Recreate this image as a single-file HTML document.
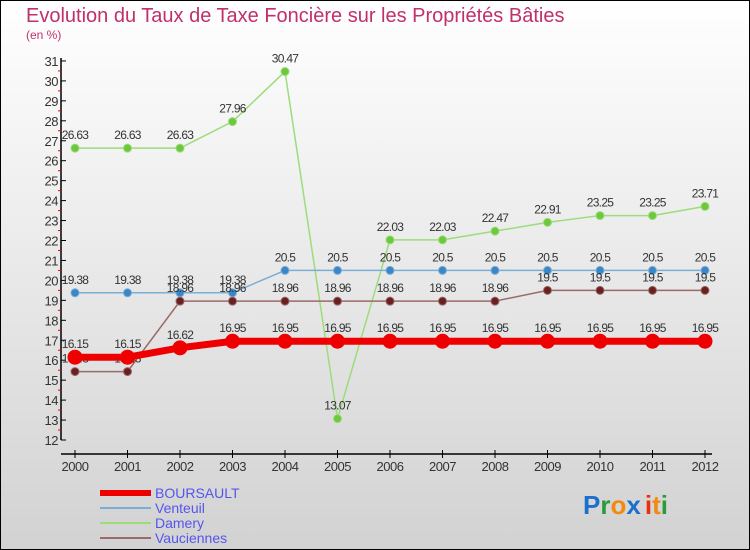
<!DOCTYPE html>
<html><head><meta charset="utf-8"><style>
body{margin:0;}
#c{width:750px;height:550px;position:relative;overflow:hidden;}
svg{display:block;font-family:"Liberation Sans",sans-serif;}
</style></head><body>
<div id="c">
<svg id="s" width="750" height="550">
<defs><linearGradient id="bg" x1="0" y1="0" x2="0" y2="1"><stop offset="0" stop-color="#ffffff"/><stop offset="1" stop-color="#d2d2d2"/></linearGradient></defs>
<rect x="0.5" y="0.5" width="749" height="549" fill="url(#bg)" stroke="#000"/>
<text x="26" y="22" font-size="20" fill="#c0306a">Evolution du Taux de Taxe Foncière sur les Propriétés Bâties</text>
<text x="26" y="39" font-size="12" fill="#c0306a">(en %)</text>
<g id="axes"></g>
<g id="series"></g>
<g id="legend"></g>
<text x="583" y="514" font-size="26" font-weight="bold"><tspan fill="#1a6fcf">P</tspan><tspan fill="#2a9a3a">r</tspan><tspan fill="#f08a10">o</tspan><tspan fill="#1a6fcf">x</tspan><tspan fill="#e83010" dx="4">i</tspan><tspan fill="#f08a10">t</tspan><tspan fill="#2a9a3a">i</tspan></text>
</svg></div>
<script>
const years=[2000,2001,2002,2003,2004,2005,2006,2007,2008,2009,2010,2011,2012];
const boursault=[16.15,16.15,16.62,16.95,16.95,16.95,16.95,16.95,16.95,16.95,16.95,16.95,16.95];
const venteuil=[19.38,19.38,19.38,19.38,20.5,20.5,20.5,20.5,20.5,20.5,20.5,20.5,20.5];
const damery=[26.63,26.63,26.63,27.96,30.47,13.07,22.03,22.03,22.47,22.91,23.25,23.25,23.71];
const vauciennes=[15.43,15.43,18.96,18.96,18.96,18.96,18.96,18.96,18.96,19.5,19.5,19.5,19.5];
const yTicks=[12,13,14,15,16,17,18,19,20,21,22,23,24,25,26,27,28,29,30,31];
const NS='http://www.w3.org/2000/svg';
const x=i=>75+i*52.5;
const y=v=>440-(v-12)*19.95;
function el(t,a,p){const e=document.createElementNS(NS,t);for(const k in a)e.setAttribute(k,a[k]);p.appendChild(e);return e;}
const ax=document.getElementById('axes');
const ya=el('line',{x1:61,y1:58,x2:61,y2:440,stroke:'#000','stroke-width':1.5},ax);


const xa=el('line',{x1:61,y1:454,x2:712,y2:454,stroke:'#000','stroke-width':1.5},ax);


yTicks.forEach(v=>{
 el('line',{x1:61,y1:y(v),x2:66,y2:y(v),stroke:'#000'},ax);
 if(v<31) el('line',{x1:58,y1:y(v+0.5),x2:61,y2:y(v+0.5),stroke:'#e00'},ax);
 const t=el('text',{x:58,y:y(v)+5,'font-size':13,'text-anchor':'end',fill:'#333','letter-spacing':'-0.5'},ax);
 t.textContent=v;
 
 
});
years.forEach((yr,i)=>{
 el('line',{x1:x(i),y1:450,x2:x(i),y2:458,stroke:'#000'},ax);
 const t=el('text',{x:x(i),y:471,'font-size':13,'text-anchor':'middle',fill:'#333','letter-spacing':'-0.5'},ax);
 t.textContent=yr;
 
 
});
const sg=document.getElementById('series');
function draw(data,name,color,dot,w,r){
 const g=el('g',{},sg);
 
 
 const pl=el('polyline',{points:data.map((v,i)=>x(i)+','+y(v)).join(' '),fill:'none',stroke:color,'stroke-width':w},g);
 
 
 data.forEach((v,i)=>{
  const c=el('circle',{cx:x(i),cy:y(v),r:r,fill:dot,stroke:color,'stroke-width':1},g);
  
  
  const t=el('text',{x:x(i),y:y(v)-9,'font-size':12,'text-anchor':'middle',fill:'#333','letter-spacing':'-0.7'},g);
  t.textContent=v;
  
  
 });
}
draw(damery,'damery','#9ddc7a','#6cc83c',1.5,4);
draw(venteuil,'venteuil','#7aaed6','#3a86c6',1.5,4);
draw(vauciennes,'vauciennes','#9a6a6a','#6a2020',1.5,4);
draw(boursault,'boursault','#ee0000','#ee0000',7,7);
const lg=document.getElementById('legend');
const items=[['BOURSAULT','#ee0000',6],['Venteuil','#7aaed6',2],['Damery','#9ddc7a',2],['Vauciennes','#9a6a6a',2]];
items.forEach((it,k)=>{
 const yy=493+k*15;
 const l=el('line',{x1:100,y1:yy,x2:151,y2:yy,stroke:it[1],'stroke-width':it[2]},lg);
 
 
 const t=el('text',{x:155,y:yy+5,'font-size':14,fill:'#5555ee'},lg);
 t.textContent=it[0];
 
 
});
</script>
</body></html>
